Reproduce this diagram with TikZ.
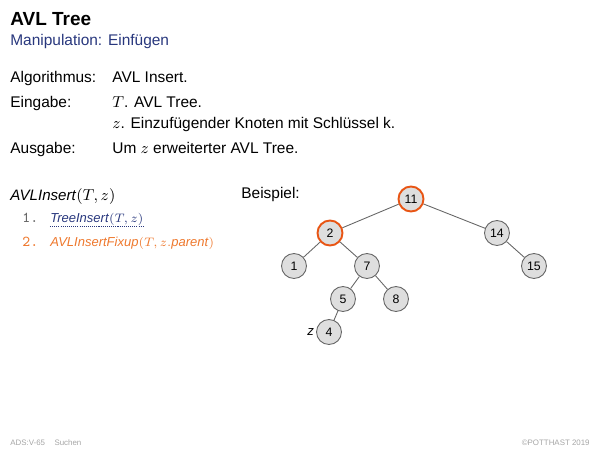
\documentclass[tikz,border=0pt]{standalone}
\usepackage{amsmath}
\usepackage{fontspec}
\setmainfont{Liberation Sans}
\usetikzlibrary{positioning}
\definecolor{titleblue}{RGB}{40,55,125}
\definecolor{algoorange}{RGB}{238,120,45}
\definecolor{markorange}{RGB}{232,85,20}
\definecolor{footgray}{RGB}{165,165,165}
\begin{document}
\begin{tikzpicture}[x=0.02cm,y=-0.02cm,
  txt/.style={anchor=base west,inner sep=0pt,font=\fontsize{8.8}{10}\selectfont},
  algo/.style={anchor=base west,inner sep=0pt,font=\fontsize{7.4}{9}\selectfont},
  knoten/.style={circle,draw=black!60,fill=black!13,line width=0.5pt,minimum size=0.5cm,inner sep=0pt,font=\fontsize{7}{8}\selectfont},
  marked/.style={draw=markorange,line width=1.1pt},
  kante/.style={draw=black!60,line width=0.5pt}]
\useasboundingbox (0,0) rectangle (600,450);
% Kopf
\node[anchor=base west,inner sep=0pt,font=\fontsize{10.8}{12}\bfseries] (title) at (10,25) {AVL Tree};
\node[txt,text=titleblue] (sub) at (10,45) {Manipulation: Einf\"ugen};
% Spezifikation
\node[txt] (alg)  at (10,82)   {Algorithmus:};
\node[txt] (algv) at (112,82)  {AVL Insert.};
\node[txt] (ein)  at (10,107)  {Eingabe:};
\node[txt] (einv) at (112,107) {$T$. AVL Tree.};
\node[txt] (ein2) at (112,128) {$z$. Einzuf\"ugender Knoten mit Schl\"ussel k.};
\node[txt] (aus)  at (10,153)  {Ausgabe:};
\node[txt] (ausv) at (112,153) {Um $z$ erweiterter AVL Tree.};
% Algorithmus
\node[anchor=base west,inner sep=0pt,font=\fontsize{8.6}{10}\selectfont] (head) at (10,200) {\textit{AVLInsert}$(T,z)$};
\node[algo,text=black!60,font=\fontsize{8.6}{10}\ttfamily] (n1) at (22,222) {1.};
\node[algo,text=titleblue] (s1) at (50,222) {\textit{TreeInsert}$(T,z)$};
\draw[titleblue,dash pattern=on 0.6pt off 0.6pt,line width=0.5pt] ([yshift=-2.5pt]s1.base west) -- ([yshift=-2.5pt]s1.base east);
\node[algo,text=algoorange,font=\fontsize{8.6}{10}\ttfamily] (n2) at (22,246) {2.};
\node[algo,text=algoorange] (s2) at (50,246) {\textit{AVLInsertFixup}$(T,z.$\textit{parent}$)$};
\node[txt] (bsp) at (241,198) {Beispiel:};
% Baum
\node[knoten,marked] (k11) at (411,199) {11};
\node[knoten,marked] (k2)  at (330,233) {2};
\node[knoten] (k14) at (497,233) {14};
\node[knoten] (k1)  at (294,266) {1};
\node[knoten] (k7)  at (367,266) {7};
\node[knoten] (k15) at (534,266) {15};
\node[knoten] (k5)  at (343,299) {5};
\node[knoten] (k8)  at (396,299) {8};
\node[knoten] (k4)  at (329,332) {4};
\node[left=0pt of k4,inner sep=1pt,font=\fontsize{7.5}{8}\itshape] (zl) {z};
\foreach \a/\b in {k11/k2,k11/k14,k2/k1,k2/k7,k14/k15,k7/k5,k7/k8,k5/k4}
  \draw[kante] (\a) -- (\b);
% Fuss
\node[anchor=base west,inner sep=0pt,text=footgray,font=\fontsize{4.5}{5}\selectfont] (fl) at (10,445) {ADS:V-65\hspace{1.2em}Suchen};
\node[anchor=base east,inner sep=0pt,text=footgray,font=\fontsize{4.5}{5}\selectfont] (fr) at (590,445) {\copyright POTTHAST 2019};
\end{tikzpicture}
\end{document}
